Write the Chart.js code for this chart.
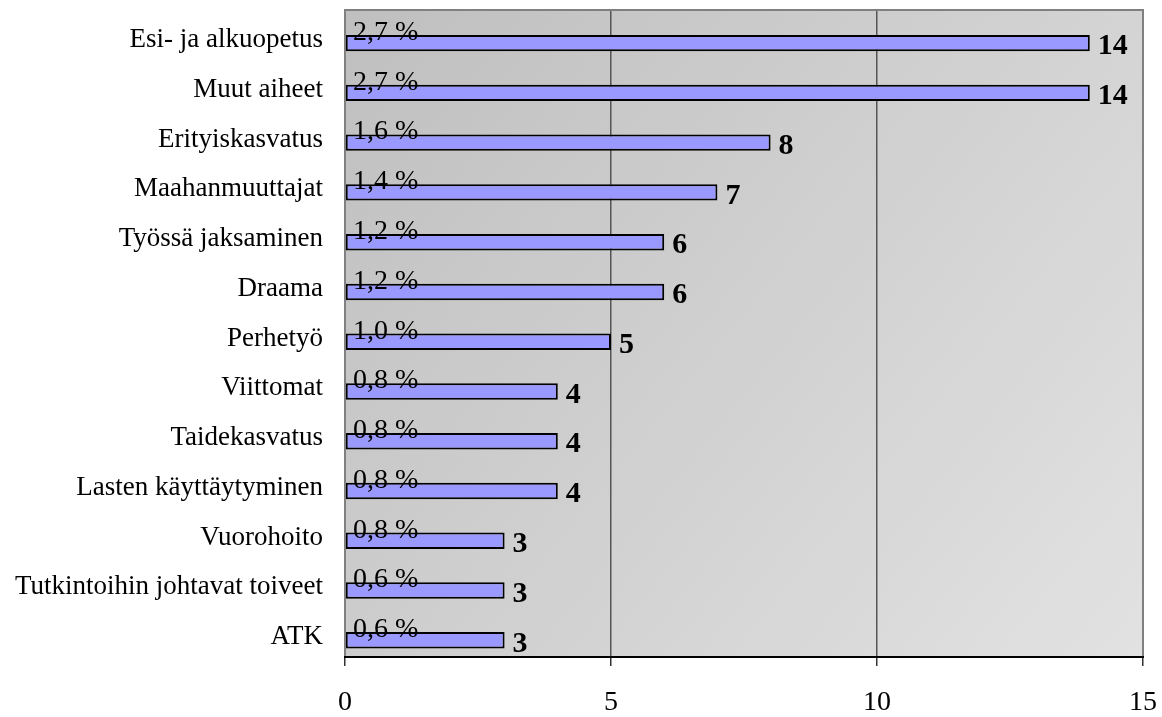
<!DOCTYPE html>
<html>
<head>
<meta charset="utf-8">
<script src="https://cdn.jsdelivr.net/npm/chart.js@4/dist/chart.umd.min.js"></script>
<style>
  html, body { margin: 0; padding: 0; background: #fff; }
  #wrap { width: 1162px; height: 717px; }
</style>
</head>
<body>
<div id="wrap"><canvas id="c"></canvas></div>
<script>
// topics, top to bottom
const topics = ["Esi- ja alkuopetus", "Muut aiheet", "Erityiskasvatus", "Maahanmuuttajat",
  "Työssä jaksaminen", "Draama", "Perhetyö", "Viittomat", "Taidekasvatus",
  "Lasten käyttäytyminen", "Vuorohoito", "Tutkintoihin johtavat toiveet", "ATK"];
const counts = [14, 14, 8, 7, 6, 6, 5, 4, 4, 4, 3, 3, 3];
const shares = [2.7, 2.7, 1.6, 1.4, 1.2, 1.2, 1.0, 0.8, 0.8, 0.8, 0.8, 0.6, 0.6];
const xTicks = [0, 5, 10, 15];

const SERIF = "'Liberation Serif', 'DejaVu Serif', serif";
const pctS = v => v.toFixed(1).replace(".", ",") + " %";
const noPad = s => { s.paddingTop = 0; s.paddingBottom = 0; s.paddingLeft = 0; s.paddingRight = 0; };

// gradient plot background + grey frame on top/right/left
const plotBg = {
  id: "plotBg",
  beforeDraw(chart) {
    const { ctx, chartArea: a } = chart;
    const g = ctx.createLinearGradient(a.left, a.top, a.right, a.bottom);
    g.addColorStop(0, "#bfbfbf");
    g.addColorStop(1, "#e2e2e2");
    ctx.save();
    ctx.fillStyle = g;
    ctx.fillRect(a.left, a.top, a.right - a.left, a.bottom - a.top);
    ctx.restore();
  },
  afterDraw(chart) {
    const { ctx, chartArea: a } = chart;
    ctx.save();
    ctx.strokeStyle = "#808080";
    ctx.lineWidth = 2;
    ctx.beginPath();
    ctx.moveTo(a.left, a.bottom);
    ctx.lineTo(a.left, a.top);
    ctx.lineTo(a.right, a.top);
    ctx.lineTo(a.right, a.bottom);
    ctx.stroke();
    ctx.strokeStyle = "#000";
    ctx.beginPath();
    ctx.moveTo(a.left - 1, a.bottom);
    ctx.lineTo(a.right + 1, a.bottom);
    ctx.stroke();
    ctx.restore();
  },
};

// "2,7 %" share labels + bold count labels
const barLabels = {
  id: "barLabels",
  afterDatasetsDraw(chart) {
    const { ctx, chartArea: a } = chart;
    const cm = chart.getDatasetMeta(1);
    ctx.save();
    ctx.fillStyle = "#000";
    ctx.textBaseline = "alphabetic";
    ctx.textAlign = "left";
    cm.data.forEach((el, i) => {
      const h = el.height;
      ctx.font = "28px " + SERIF;
      ctx.fillText(pctS(shares[i]), a.left + 8, el.y - h / 2 + 5);
      ctx.font = "bold 30px " + SERIF;
      ctx.fillText(String(counts[i]), el.x + 8, el.y + h / 2 + 3);
    });
    ctx.restore();
  },
};

new Chart(document.getElementById("c"), {
  type: "bar",
  data: {
    labels: topics,
    datasets: [
      { label: "%", data: shares, backgroundColor: "rgba(0,0,0,0)", borderWidth: 0 },
      { label: "Lkm", data: counts, backgroundColor: "#9999ff", borderColor: "#000",
        borderWidth: 2, borderSkipped: false },
    ],
  },
  options: {
    indexAxis: "y",
    responsive: true, maintainAspectRatio: false, animation: false,
    categoryPercentage: 0.66, barPercentage: 1,
    layout: { padding: { top: 10, right: 19, left: 0, bottom: 0 } },
    plugins: { legend: { display: false }, tooltip: { enabled: false } },
    scales: {
      x: {
        min: 0, max: 15,
        afterBuildTicks(s) { s.ticks = xTicks.map(v => ({ value: v })); },
        afterFit(s) { s.height = 60; noPad(s); },
        border: { display: false },
        grid: { color: "#555", lineWidth: 1.5, tickLength: 9, tickColor: "#333", drawTicks: true },
        ticks: { color: "#000", padding: 20, font: { family: SERIF, size: 28 } },
      },
      y: {
        afterFit(s) { s.width = 345; noPad(s); },
        border: { display: false },
        grid: { display: false },
        ticks: { color: "#000", padding: 14, labelOffset: 5, font: { family: SERIF, size: 27 } },
      },
    },
  },
  plugins: [plotBg, barLabels],
});
</script>
</body>
</html>
